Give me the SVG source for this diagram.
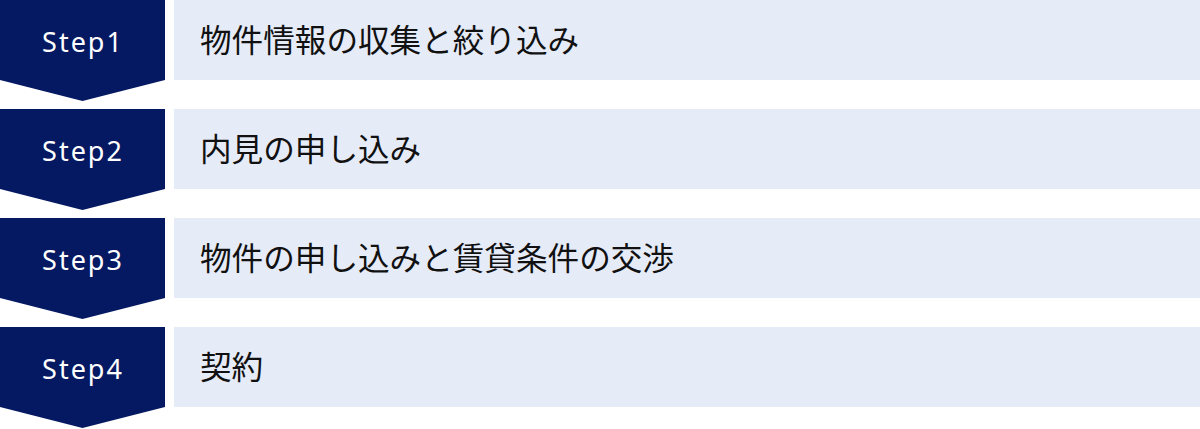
<svg xmlns="http://www.w3.org/2000/svg" width="1200" height="429" viewBox="0 0 1200 429">
<style>
.chev{fill:#051862}
.box{fill:#e6ebf8}
.step{font-family:"Noto Sans","Liberation Sans",sans-serif;font-size:27px;fill:#ffffff;text-anchor:middle;letter-spacing:2px}
.lbl{font-family:"Noto Sans CJK JP","Noto Sans",sans-serif;font-size:31.6px;fill:#111111}
</style>
<defs>
<polygon id="chevShape" points="0,0 165,0 165,80 82.5,101 0,80"/>
</defs>
<g id="step1" transform="translate(0,0)">
<use href="#chevShape" class="chev"/>
<rect class="box" x="174" y="0" width="1026" height="80"/>
<text class="step" x="83" y="52">Step1</text>
<text class="lbl" x="200" y="52">物件情報の収集と絞り込み</text>
</g>
<g id="step2" transform="translate(0,109)">
<use href="#chevShape" class="chev"/>
<rect class="box" x="174" y="0" width="1026" height="80"/>
<text class="step" x="83" y="52">Step2</text>
<text class="lbl" x="200" y="52">内見の申し込み</text>
</g>
<g id="step3" transform="translate(0,218)">
<use href="#chevShape" class="chev"/>
<rect class="box" x="174" y="0" width="1026" height="80"/>
<text class="step" x="83" y="52">Step3</text>
<text class="lbl" x="200" y="52">物件の申し込みと賃貸条件の交渉</text>
</g>
<g id="step4" transform="translate(0,327)">
<use href="#chevShape" class="chev"/>
<rect class="box" x="174" y="0" width="1026" height="80"/>
<text class="step" x="83" y="52">Step4</text>
<text class="lbl" x="200" y="52">契約</text>
</g>
<g id="connectors"></g>
</svg>
